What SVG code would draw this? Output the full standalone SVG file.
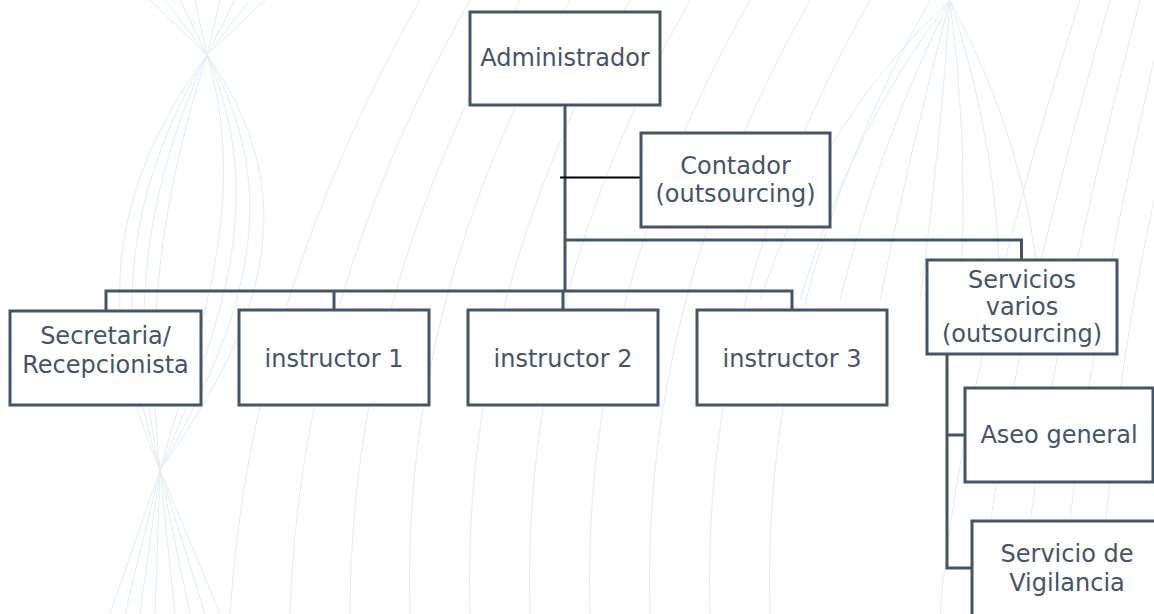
<svg xmlns="http://www.w3.org/2000/svg" width="1154" height="614" viewBox="0 0 1154 614">
<style>
.bg{fill:none;stroke:#E6EDF2;stroke-width:1}
.box{fill:#FFFFFF;stroke:#44546A;stroke-width:3}
.ln{fill:none;stroke:#44546A;stroke-width:3}
.blk{fill:none;stroke:#000000;stroke-width:2}
text{font-family:"DejaVu Sans","Verdana",sans-serif;font-size:24px;fill:#44546A;text-anchor:middle}
</style>
<rect x="0" y="0" width="1154" height="614" fill="#FFFFFF"/>
<g id="background">
<path class="bg" d="M150,0 L207,55 M165,0 L207,55 M180,0 L207,55 M195,0 L207,55 M220,0 L207,55 M235,0 L207,55 M250,0 L207,55 M265,0 L207,55"/>
<path class="bg" d="M207,55 C100,200 100,330 160,470 M207,55 C120,200 115,330 160,470 M207,55 C140,200 130,330 160,470 M207,55 C160,200 145,330 160,470 M207,55 C250,200 200,330 160,470 M207,55 C270,200 220,330 160,470 M207,55 C290,200 240,330 160,470 M207,55 C310,200 260,330 160,470"/>
<path class="bg" d="M160,470 L110,614 M160,470 L125,614 M160,470 L140,614 M160,470 L155,614 M160,470 L175,614 M160,470 L190,614 M160,470 L205,614 M160,470 L220,614"/>
<path class="bg" d="M230,614 Q250,300 420,0 M290,614 Q300,300 470,0 M350,614 Q350,300 520,0 M410,614 Q400,300 570,0 M470,614 Q460,300 630,0 M530,614 Q520,300 690,0 M590,614 Q580,300 750,0 M650,614 Q640,300 810,0 M710,614 Q700,300 870,0 M770,614 Q760,300 930,0"/>
<path class="bg" d="M950,0 Q820,120 760,300 M950,0 Q850,130 800,300 M950,0 Q880,140 840,300 M950,0 Q910,150 880,300 M950,0 Q940,150 920,300 M950,0 Q970,150 960,300 M950,0 Q1000,150 1000,300 M950,0 Q1030,150 1040,300"/>
<path class="bg" d="M940,614 Q960,380 1080,0 M980,614 Q1000,380 1110,0 M1020,614 Q1040,380 1140,0 M1060,614 Q1080,380 1154,60 M1100,614 Q1110,400 1154,200"/>
</g>
<g id="connectors">
<path class="ln" d="M565,105 V291"/>
<path class="ln" d="M106,311 V291 H792 V310 M334,291 V310 M563,291 V310"/>
<path class="ln" d="M565,240 H1021.5 V260"/>
<path class="blk" d="M560,177.5 H641"/>
<path class="ln" d="M947,354 V568 H972 M947,435 H965"/>
</g>
<g id="n-admin"><rect class="box" x="470" y="12" width="190" height="93"/><text x="565" y="66">Administrador</text></g>
<g id="n-contador"><rect class="box" x="641" y="133" width="189" height="94"/><text x="735.5" y="174">Contador</text><text x="735.5" y="202">(outsourcing)</text></g>
<g id="n-secretaria"><rect class="box" x="10" y="311" width="191" height="94"/><text x="105.5" y="344">Secretaria/</text><text x="105.5" y="373">Recepcionista</text></g>
<g id="n-instr1"><rect class="box" x="239" y="310" width="190" height="95"/><text x="334" y="367">instructor 1</text></g>
<g id="n-instr2"><rect class="box" x="468" y="310" width="190" height="95"/><text x="563" y="367">instructor 2</text></g>
<g id="n-instr3"><rect class="box" x="697" y="310" width="190" height="95"/><text x="792" y="367">instructor 3</text></g>
<g id="n-servicios"><rect class="box" x="927" y="260" width="190" height="94"/><text x="1022" y="288">Servicios</text><text x="1022" y="315">varios</text><text x="1022" y="342">(outsourcing)</text></g>
<g id="n-aseo"><rect class="box" x="965" y="388" width="188" height="94"/><text x="1059" y="443">Aseo general</text></g>
<g id="n-vigilancia"><rect class="box" x="972" y="521" width="190" height="95"/><text x="1067" y="562">Servicio de</text><text x="1067" y="591">Vigilancia</text></g>
</svg>
